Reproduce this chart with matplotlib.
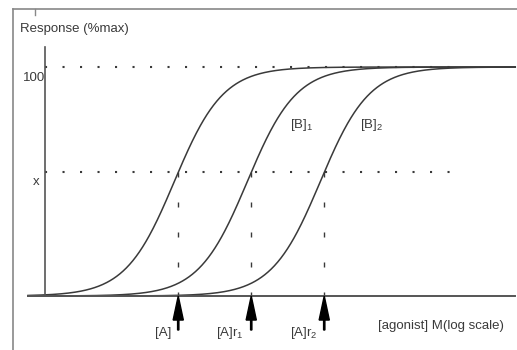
import numpy as np
import matplotlib
matplotlib.use('Agg')
import matplotlib.pyplot as plt
from matplotlib.lines import Line2D

# dose-response parameters (log M)
log_ec50 = [-7.05, -6.05, -5.05]
hill = 1.3
x_level = 54.0
curve_labels = ['[B]$_1$', '[B]$_2$']
arrow_labels = ['[A]', '[A]$\\mathregular{r_1}$', '[A]$\\mathregular{r_2}$']

plt.rcParams['font.family'] = ['Liberation Sans', 'DejaVu Sans']
plt.rcParams['mathtext.fontset'] = 'custom'
plt.rcParams['mathtext.rm'] = 'Liberation Sans'
plt.rcParams['mathtext.it'] = 'Liberation Sans'

ink = '#3a3a3a'
fs = 9.5

fig = plt.figure(figsize=(5.17, 3.5), dpi=100)
ax = fig.add_axes([0, 0, 1, 1])
ax.set_xlim(-9.438, -2.356)
ax.set_ylim(-23.58, 129.26)
ax.axis('off')

x0, x1 = -9.055, -2.38
yaxis_x = -8.822

# axes lines
ax.plot([x0, x1], [0, 0], color='#555555', lw=1.4, zorder=3)
ax.plot([yaxis_x, yaxis_x], [0, 108.7], color='#555555', lw=1.2, zorder=3)

# dotted reference lines
ax.plot([yaxis_x, -3.137], [100, 100], color=ink, lw=1.5, ls=(0, (1, 7.4)), zorder=1)
ax.plot([yaxis_x, -3.205], [x_level, x_level], color=ink, lw=1.5, ls=(0, (1, 7.4)), zorder=1)

# curves
lx = np.linspace(x0, x1, 600)
for ec in log_ec50:
    y = 100 / (1 + 10 ** (-(lx - ec) * hill))
    ax.plot(lx, y, color=ink, lw=1.1, zorder=2)

# doses giving response x
x_doses = [ec + np.log10(x_level / (100 - x_level)) / hill for ec in log_ec50]
for xd, lab in zip(x_doses, arrow_labels):
    ax.plot([xd, xd], [x_level, 0], color=ink, lw=1, ls=(0, (3.6, 18)), zorder=1)
    ax.arrow(xd, -14.85, 0, 14.85, width=0.018, head_width=0.14, head_length=10.5,
             length_includes_head=True, color='black', zorder=4)
    ax.text(xd - 0.1, -16.2, lab, ha='right', va='center', fontsize=fs, color=ink)

ax.text(-5.466, 74.7, curve_labels[0], ha='left', va='center', fontsize=fs, color=ink)
ax.text(-4.507, 74.7, curve_labels[1], ha='left', va='center', fontsize=fs, color=ink)

ax.text(-4.26, -13.1, '[agonist] M(log scale)', ha='left', va='center', fontsize=fs, color=ink)
ax.text(-9.164, 116.6, 'Response (%max)', ha='left', va='center', fontsize=fs, color=ink)
ax.text(yaxis_x, 95, '100', ha='right', va='center', fontsize=fs, color=ink)
ax.text(-8.945, 49.8, 'x', ha='center', va='center', fontsize=fs, color=ink)

# outer frame
fig.add_artist(Line2D([13 / 517, 13 / 517], [0, 1 - 9 / 350], color='#888888', lw=1.2))
fig.add_artist(Line2D([13 / 517, 1], [1 - 9 / 350, 1 - 9 / 350], color='#888888', lw=1.2))
fig.add_artist(Line2D([35 / 517, 35 / 517], [1 - 9 / 350, 1 - 15 / 350], color='#888888', lw=1))

fig.savefig('out.png', dpi=100)
